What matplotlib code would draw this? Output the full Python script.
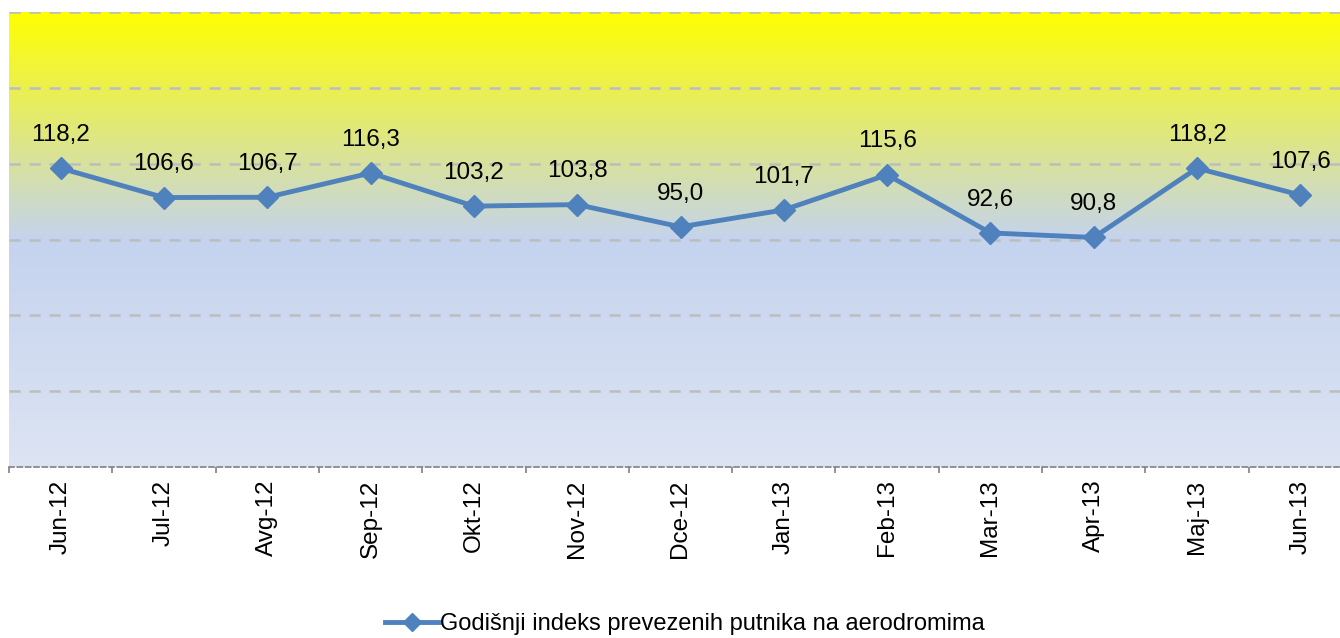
import numpy as np
import matplotlib
matplotlib.use("Agg")
import matplotlib.pyplot as plt
from matplotlib.colors import LinearSegmentedColormap
from matplotlib.lines import Line2D

months = ["Jun-12", "Jul-12", "Avg-12", "Sep-12", "Okt-12", "Nov-12", "Dce-12",
          "Jan-13", "Feb-13", "Mar-13", "Apr-13", "Maj-13", "Jun-13"]
index_values = [118.2, 106.6, 106.7, 116.3, 103.2, 103.8, 95.0,
                101.7, 115.6, 92.6, 90.8, 118.2, 107.6]
value_labels = ["118,2", "106,6", "106,7", "116,3", "103,2", "103,8", "95,0",
                "101,7", "115,6", "92,6", "90,8", "118,2", "107,6"]
series_name = "Godišnji indeks prevezenih putnika na aerodromima"

plt.rcParams['font.family'] = ['Liberation Sans', 'DejaVu Sans']

W, H = 1340, 638
fig = plt.figure(figsize=(W / 100, H / 100), dpi=100)
# plot area runs past the right edge like the original
ax = fig.add_axes([9 / W, 1 - 467 / H, 1343 / W, 455 / H])

n = len(months)
x = np.arange(n)
ax.set_xlim(-0.5, n - 0.5)
ax.set_ylim(0, 180)

# background gradient
cmap = LinearSegmentedColormap.from_list(
    "bg", [(0.0, "#ffff00"), (0.5, "#c4d3ee"), (1.0, "#dde4f3")])
grad = np.linspace(0, 1, 256).reshape(-1, 1)
ax.imshow(grad, cmap=cmap, aspect="auto", extent=(-0.5, n - 0.5, 0, 180),
          origin="upper", zorder=0)

for yv in range(30, 181, 30):
    ax.axhline(yv, color="#bdbdbd", lw=1.8, ls=(0, (4.5, 3.5)), zorder=1)

ax.plot(x, index_values, color="#4f81bd", lw=3.5, marker="D", markersize=11,
        zorder=3)

for xi, yi, lab in zip(x, index_values, value_labels):
    ax.annotate(lab, (xi, yi), xytext=(0, 24), textcoords="offset points",
                ha="center", va="center", fontsize=17.5, color="black", zorder=4)

for s in ["left", "right", "top"]:
    ax.spines[s].set_visible(False)
ax.spines["bottom"].set_color("#808080")
ax.spines["bottom"].set_linestyle((0, (3, 2)))
ax.spines["bottom"].set_linewidth(1.2)

ax.set_yticks([])
ax.set_xticks(x)
ax.set_xticklabels(months, rotation=90, fontsize=17.5)
ax.tick_params(axis="x", which="major", length=0, pad=9)
ax.set_xticks(np.arange(-0.5, n, 1), minor=True)
ax.tick_params(axis="x", which="minor", length=4, color="#808080", width=1.2)

handle = Line2D([0], [0], color="#4f81bd", lw=3.5, marker="D", markersize=9)
fig.legend([handle], [series_name], loc="center", bbox_to_anchor=(0.511, 1 - 624 / H),
           frameon=False, fontsize=17, handlelength=2.3, handletextpad=0.05)

fig.savefig("out.png", dpi=100)
